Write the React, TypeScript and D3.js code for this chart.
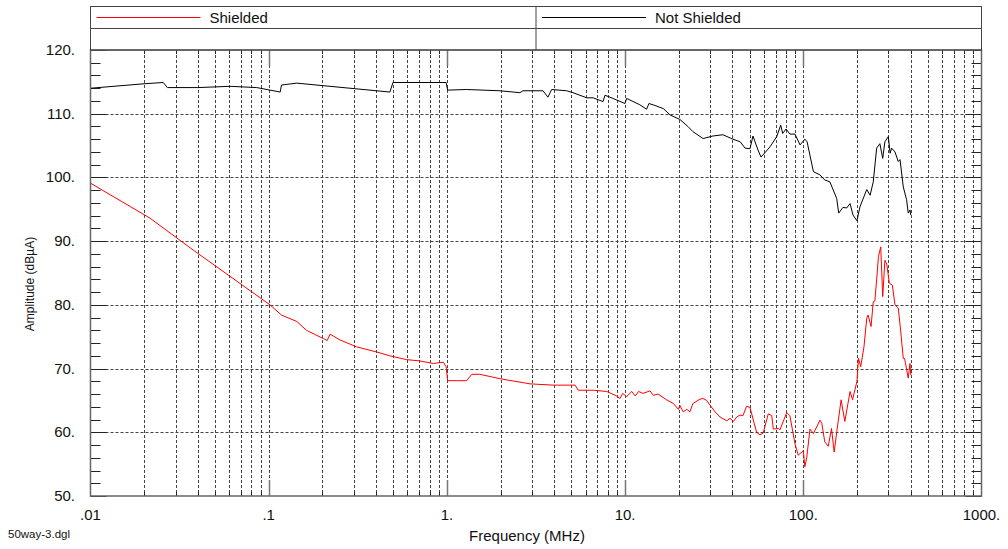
import { useRef, useEffect } from 'react';
import * as d3 from 'd3';

// [frequency MHz, amplitude dBµA]
const notShielded: [number, number][] = [
  [0.01, 114.0], [0.02, 114.7], [0.0256, 114.9], [0.027, 114.1], [0.04, 114.1],
  [0.0607, 114.3], [0.0857, 114.1], [0.116, 113.4], [0.118, 114.5], [0.1436, 114.8],
  [0.479, 113.4], [0.498, 114.9], [0.99, 114.9], [1.01, 113.7], [1.29, 113.8],
  [1.99, 113.6], [2.57, 113.3], [2.67, 113.6], [3.46, 113.6], [3.69, 112.6],
  [3.87, 113.8], [4.7, 113.6], [5.1, 113.3], [6.09, 112.5], [6.61, 112.5],
  [7.52, 111.9], [7.71, 112.9], [8.55, 112.4], [9.98, 111.6], [10.2, 112.4],
  [12.1, 111.4], [13.2, 110.7], [13.6, 111.6], [14.7, 111.3], [16.4, 110.8],
  [17.9, 109.8], [20.3, 109.1], [22.5, 108.0], [24.0, 107.2], [27.4, 106.1],
  [31.1, 106.5], [35.4, 106.7], [40.3, 106.0], [44.2, 105.6], [47.1, 104.6],
  [50.2, 104.5], [52.2, 106.5], [55.7, 104.3], [57.9, 103.2], [61.0, 103.9],
  [65.0, 104.8], [70.9, 106.4], [74.7, 108.2], [76.6, 106.9], [80.0, 107.6],
  [84.1, 106.8], [89.8, 106.8], [95.9, 105.1], [102, 106.0], [105, 105.6],
  [114, 100.9], [124, 100.4], [132, 99.6], [141, 99.3], [154, 96.7],
  [158, 94.4], [167, 95.3], [175, 95.2], [183, 95.9], [190, 94.1],
  [200, 93.2], [208, 95.4], [227, 98.1], [237, 97.2], [247, 99.3],
  [258, 104.6], [269, 105.3], [279, 103.0], [287, 105.6], [300, 106.4],
  [307, 103.8], [313, 104.6], [327, 104.0], [341, 102.5], [349, 102.8],
  [364, 98.5], [380, 96.5], [388, 94.4], [397, 94.9], [401, 94.1],
];

const shielded: [number, number][] = [
  [0.01, 99.1], [0.0216, 93.6], [0.0377, 88.6], [0.1017, 80.0], [0.118, 78.4],
  [0.1436, 77.4], [0.163, 76.0], [0.203, 74.7], [0.213, 74.4], [0.221, 75.4],
  [0.251, 74.5], [0.312, 73.4], [0.404, 72.6], [0.479, 72.0], [0.595, 71.4],
  [0.706, 71.2], [0.839, 70.8], [0.955, 71.0], [0.99, 70.3], [1.01, 68.1],
  [1.135, 68.1], [1.29, 68.1], [1.38, 69.1], [1.53, 69.1], [1.99, 68.4],
  [2.93, 67.6], [3.95, 67.4], [5.24, 67.4], [5.46, 66.6], [6.63, 66.6],
  [7.89, 66.4], [8.97, 65.7], [9.36, 65.3], [9.7, 66.1], [10.2, 65.6],
  [10.9, 66.4], [11.4, 65.7], [11.9, 66.4], [12.6, 66.1], [13.8, 66.5],
  [14.4, 65.8], [15.3, 66.0], [17.1, 65.1], [18.7, 64.5], [19.9, 63.6],
  [20.3, 64.2], [21.2, 63.2], [22.2, 63.6], [23.1, 63.2], [24.0, 64.5],
  [26.3, 65.2], [27.4, 65.3], [28.7, 65.0], [29.9, 64.3], [32.0, 63.2],
  [34.1, 62.4], [37.2, 61.8], [38.8, 62.2], [40.5, 61.7], [42.3, 62.4],
  [44.2, 62.7], [45.8, 62.6], [48.1, 64.1], [50.2, 63.9], [54.7, 60.0],
  [57.1, 59.6], [59.6, 59.9], [63.6, 62.9], [66.5, 62.6], [67.9, 60.5],
  [72.4, 60.6], [74.0, 60.4], [80.7, 63.1], [84.1, 62.6], [89.8, 58.2],
  [93.7, 56.4], [100, 57.1], [102, 54.6], [104.5, 56.0], [109, 60.5],
  [114, 59.8], [124, 61.9], [127, 61.4], [132, 58.5], [138, 57.8],
  [144, 60.6], [149, 56.9], [154, 60.0], [163, 65.1], [171, 61.7],
  [183, 66.4], [189, 65.1], [200, 68.0], [204, 71.6], [210, 70.3],
  [219, 73.4], [227, 77.9], [231, 78.4], [240, 76.6], [247, 80.5],
  [252, 80.6], [258, 83.9], [264, 87.6], [272, 89.1], [279, 81.3],
  [287, 87.0], [294, 86.4], [304, 83.4], [316, 83.1], [327, 80.0],
  [341, 79.5], [350, 76.6], [364, 71.6], [370, 71.6], [388, 68.5],
  [397, 70.8], [401, 69.0],
];

const decades = [0.01, 0.1, 1, 10, 100, 1000];
const decadeLabels = ['.01', '.1', '1.', '10.', '100.', '1000.'];
const yMajor = [50, 60, 70, 80, 90, 100, 110, 120];
const seriesNames = ['Shielded', 'Not Shielded'];
const seriesColors = ['#ff0000', '#000000'];

function App() {
  const svgRef = useRef(null);
  const width = 1008;
  const height = 549;

  useEffect(() => {
    const svg = d3.select(svgRef.current);
    svg.selectAll('*').remove();
    const font = 'Liberation Sans, Arial, sans-serif';
    const m = { left: 90.5, right: 981.5, top: 50, bottom: 496 };

    const x = d3.scaleLog().domain([0.01, 1000]).range([m.left, m.right]);
    const y = d3.scaleLinear().domain([50, 120]).range([m.bottom, m.top]);

    const minors: number[] = [];
    decades.slice(0, -1).forEach((d) => {
      for (let k = 2; k <= 9; k++) minors.push(d * k);
    });

    const g = svg.append('g');

    // grid
    g.selectAll('line.vgrid')
      .data([...minors, ...decades.slice(1, -1)])
      .join('line')
      .attr('x1', (d) => Math.round(x(d)) + 0.5)
      .attr('x2', (d) => Math.round(x(d)) + 0.5)
      .attr('y1', m.top)
      .attr('y2', m.bottom)
      .attr('stroke', '#444')
      .attr('stroke-dasharray', '3,2');
    g.selectAll('line.hgrid')
      .data(yMajor.slice(1, -1))
      .join('line')
      .attr('x1', m.left)
      .attr('x2', m.right)
      .attr('y1', (d) => Math.round(y(d)) + 0.5)
      .attr('y2', (d) => Math.round(y(d)) + 0.5)
      .attr('stroke', '#444')
      .attr('stroke-dasharray', '3,2');

    // y ticks, left and right
    const yTicks = d3.range(50, 121, 2);
    [m.left, m.right].forEach((x0, side) => {
      const dir = side === 0 ? 1 : -1;
      g.append('g')
        .selectAll('line')
        .data(yTicks)
        .join('line')
        .attr('x1', x0)
        .attr('x2', (d) => x0 + dir * (d % 10 === 0 ? 16 : 10))
        .attr('y1', (d) => Math.round(y(d)) + 0.5)
        .attr('y2', (d) => Math.round(y(d)) + 0.5)
        .attr('stroke', '#222');
    });

    // x ticks, top and bottom
    [m.top, m.bottom].forEach((y0, side) => {
      const dir = side === 0 ? 1 : -1;
      g.append('g')
        .selectAll('line')
        .data([...minors.map((v) => [v, 4]), ...decades.slice(1, -1).map((v) => [v, 16])])
        .join('line')
        .attr('x1', (d) => Math.round(x(d[0])) + 0.5)
        .attr('x2', (d) => Math.round(x(d[0])) + 0.5)
        .attr('y1', y0)
        .attr('y2', (d) => y0 + dir * d[1])
        .attr('stroke', (d) => (d[1] > 4 ? '#777' : '#222'))
        .attr('stroke-width', (d) => (d[1] > 4 ? 1.5 : 1));
    });

    // curves
    const line = d3
      .line<[number, number]>()
      .x((d) => x(d[0]))
      .y((d) => y(d[1]));

    [shielded, notShielded].forEach((data, i) => {
      g.append('path')
        .attr('d', line(data))
        .attr('fill', 'none')
        .attr('stroke', seriesColors[i])
        .attr('stroke-width', 1);
    });

    // plot frame
    g.append('rect')
      .attr('x', m.left)
      .attr('y', m.top)
      .attr('width', m.right - m.left)
      .attr('height', m.bottom - m.top)
      .attr('fill', 'none')
      .attr('stroke', '#666')
      .attr('stroke-width', 1.5);

    // legend box
    const lg = svg.append('g');
    const midX = (m.left + m.right) / 2;
    lg.append('rect')
      .attr('x', m.left)
      .attr('y', 6.5)
      .attr('width', m.right - m.left)
      .attr('height', m.top - 6.5)
      .attr('fill', 'none')
      .attr('stroke', '#444');
    lg.append('line')
      .attr('x1', m.left)
      .attr('x2', m.right)
      .attr('y1', 28.5)
      .attr('y2', 28.5)
      .attr('stroke', '#444');
    lg.append('line')
      .attr('x1', midX)
      .attr('x2', midX)
      .attr('y1', 6.5)
      .attr('y2', m.top)
      .attr('stroke', '#444');
    seriesNames.forEach((name, i) => {
      const x0 = i === 0 ? m.left : midX;
      lg.append('line')
        .attr('x1', x0 + 6)
        .attr('x2', x0 + 110)
        .attr('y1', 17.5)
        .attr('y2', 17.5)
        .attr('stroke', seriesColors[i]);
      lg.append('text')
        .attr('x', x0 + 119)
        .attr('y', 23)
        .attr('font-family', font)
        .attr('font-size', 15)
        .attr('fill', '#111')
        .text(name);
    });

    // axis labels
    svg
      .append('g')
      .selectAll('text')
      .data(yMajor)
      .join('text')
      .attr('x', 75)
      .attr('y', (d) => y(d) + 5)
      .attr('text-anchor', 'end')
      .attr('font-family', font)
      .attr('font-size', 15)
      .attr('fill', '#111')
      .text((d) => `${d}.`);

    svg
      .append('g')
      .selectAll('text')
      .data(decades)
      .join('text')
      .attr('x', (d) => x(d))
      .attr('y', 520)
      .attr('text-anchor', 'middle')
      .attr('font-family', font)
      .attr('font-size', 15)
      .attr('fill', '#111')
      .text((_, i) => decadeLabels[i]);

    svg
      .append('text')
      .attr('x', 527)
      .attr('y', 541)
      .attr('text-anchor', 'middle')
      .attr('font-family', font)
      .attr('font-size', 15)
      .attr('fill', '#111')
      .text('Frequency (MHz)');

    svg
      .append('text')
      .attr('transform', 'translate(34,284) rotate(-90)')
      .attr('text-anchor', 'middle')
      .attr('font-family', font)
      .attr('font-size', 12)
      .attr('fill', '#111')
      .text('Amplitude (dBµA)');

    svg
      .append('text')
      .attr('x', 8)
      .attr('y', 538)
      .attr('font-family', font)
      .attr('font-size', 11.5)
      .attr('fill', '#111')
      .text('50way-3.dgl');
  }, []);

  return (
    <svg
      ref={svgRef}
      width={width}
      height={height}
      style={{ position: 'absolute', left: 0, top: 0, background: '#fff' }}
    ></svg>
  );
}

export default App;
